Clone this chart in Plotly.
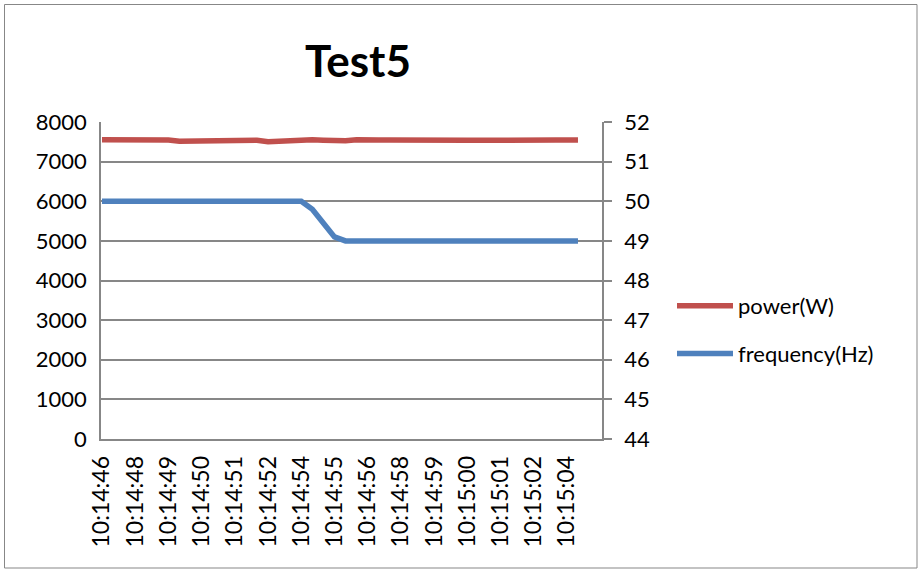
import plotly.graph_objects as go

time_labels = ["10:14:46", "10:14:48", "10:14:49", "10:14:50", "10:14:51",
               "10:14:52", "10:14:54", "10:14:55", "10:14:56", "10:14:58",
               "10:14:59", "10:15:00", "10:15:01", "10:15:02", "10:15:04"]
label_step = 3

power = [7550, 7550, 7550, 7550, 7550, 7550, 7545, 7515, 7515, 7515,
         7515, 7520, 7545, 7545, 7540, 7500, 7515, 7530, 7545, 7550,
         7540, 7530, 7525, 7550, 7535, 7545, 7545, 7540, 7540, 7545,
         7545, 7540, 7540, 7540, 7540, 7545, 7540, 7540, 7545, 7540,
         7545, 7545, 7545, 7545]

frequency = [50.0] * 19 + [49.8, 49.45, 49.1] + [49.0] * 22

idx = list(range(len(power)))
tickvals = [i * label_step for i in range(len(time_labels))]

FONT = "Lato, 'Open Sans', sans-serif"
GRID = "#878787"

fig = go.Figure()
fig.add_trace(go.Scatter(x=idx, y=power, mode="lines", name="power(W)",
                         line=dict(color="#C0504D", width=5.5),
                         legendgroup="p"))
fig.add_trace(go.Scatter(x=idx, y=frequency, mode="lines", name="frequency(Hz)",
                         line=dict(color="#4F81BD", width=5.5),
                         yaxis="y2", legendgroup="f"))

W, H = 923, 575
L, R, T, B = 101, 602, 122, 439
pw, ph = R - L, B - T

def px(x):
    return (x - L) / pw

def py(y):
    return (B - y) / ph

fig.update_layout(
    width=W, height=H,
    margin=dict(l=L, r=W - R, t=T, b=H - B),
    paper_bgcolor="white", plot_bgcolor="white",
    font=dict(family=FONT, size=22, color="black"),
    title=dict(text="<b>Test5</b>", xref="paper", x=px(358), xanchor="center",
               yref="container", y=1 - 62 / H, yanchor="middle",
               font=dict(size=44, family=FONT, color="black")),
    showlegend=True,
    legend=dict(x=px(672), xanchor="left", y=py(285), yanchor="top",
                font=dict(size=22, family=FONT), tracegroupgap=16,
                bgcolor="rgba(0,0,0,0)", itemwidth=56),
    xaxis=dict(range=[-0.09, 45.17], tickmode="array", tickvals=tickvals,
               ticktext=time_labels, tickangle=-90, showgrid=False,
               showline=True, linecolor=GRID, linewidth=1.5, ticks="",
               zeroline=False, tickfont=dict(size=23), ticklabelstandoff=6),
    yaxis=dict(range=[0, 8000], dtick=1000, showgrid=True, gridcolor=GRID,
               gridwidth=1.5, showline=True, linecolor=GRID, linewidth=1.5,
               zeroline=False, ticks="", tickfont=dict(size=22),
               ticklabelstandoff=8),
    yaxis2=dict(range=[44, 52], dtick=1, overlaying="y", side="right",
                showgrid=False, showline=True, linecolor=GRID, linewidth=1.5,
                ticks="outside", ticklen=8, tickcolor=GRID, tickwidth=1.5,
                zeroline=False, tickfont=dict(size=22), ticklabelstandoff=8),
    shapes=[dict(type="rect", xref="paper", yref="paper",
                 x0=px(4.5), x1=px(917), y0=py(568), y1=py(4.5),
                 line=dict(color=GRID, width=1), layer="below")],
)

fig.write_html("out.html", config={"displayModeBar": False},
               post_script="document.body.style.margin='0px';document.body.style.padding='0px';")
